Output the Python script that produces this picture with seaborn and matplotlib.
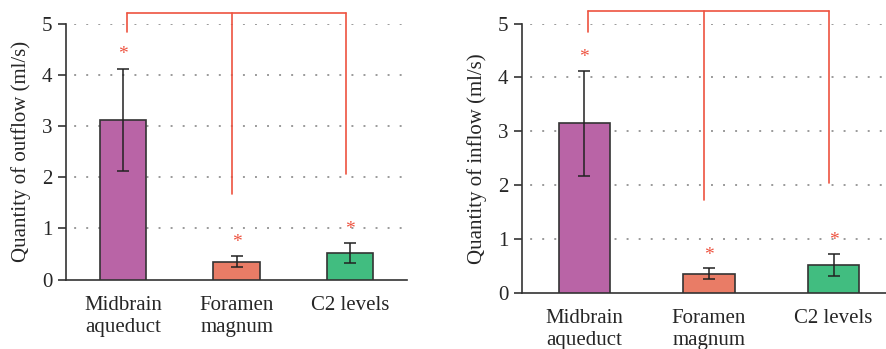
import matplotlib
matplotlib.use("Agg")
import matplotlib.pyplot as plt
import seaborn as sns
import numpy as np
import pandas as pd

categories = ["Midbrain\naqueduct", "Foramen\nmagnum", "C2 levels"]
outflow_mean = [3.12, 0.35, 0.52]
outflow_sd = [1.00, 0.11, 0.19]
outflow_star = [4.47, 0.81, 1.06]
outflow_bracket_top = 5.21
outflow_bracket_legs = [4.83, 1.67, 2.06]

inflow_mean = [3.15, 0.35, 0.515]
inflow_sd = [0.98, 0.10, 0.20]
inflow_star = [4.45, 0.77, 1.05]
inflow_bracket_top = 5.24
inflow_bracket_legs = [4.84, 1.72, 2.03]

yticks = [0, 1, 2, 3, 4, 5]
colors = ["#B964A6", "#E97C66", "#41BD80"]
red = "#EE5340"

sns.set_theme(style="white")
plt.rcParams["font.family"] = ["Liberation Serif", "DejaVu Serif"]
plt.rcParams["font.size"] = 15

fig = plt.figure(figsize=(8.86, 3.49), dpi=100)
ax1 = fig.add_axes([0.075, 0.1986, 0.3843, 0.7335])
ax2 = fig.add_axes([0.5892, 0.1613, 0.4221, 0.7708])


def panel(ax, mean, sd, star, btop, blegs, ylabel):
    df = pd.DataFrame({"cat": categories, "val": mean})
    sns.barplot(data=df, x="cat", y="val", hue="cat", palette=colors,
                width=0.41, edgecolor="#333333", linewidth=1.2,
                errorbar=None, legend=False, ax=ax, zorder=3, saturation=1)
    xs = np.arange(len(categories))
    ax.errorbar(xs, mean, yerr=sd, fmt="none", ecolor="#222222",
                elinewidth=1.1, capsize=4, capthick=1.1, zorder=4)
    for x, s in zip(xs, star):
        ax.annotate("*", (x, s), xytext=(0, -3), textcoords="offset points",
                    color=red, ha="center", va="center", fontsize=14,
                    zorder=5)
    # bracket
    leg_x = [xs[0] + 0.03, xs[1] - 0.04, xs[2] - 0.04]
    ax.plot([leg_x[0], leg_x[2]], [btop, btop], color=red, lw=1.2,
            clip_on=False, zorder=5)
    for lx, ly in zip(leg_x, blegs):
        ax.plot([lx, lx], [btop, ly], color=red, lw=1.2, clip_on=False,
                zorder=5)
    ax.set_xlim(-0.5, 2.5)
    ax.set_ylim(0, 5)
    ax.set_yticks(yticks)
    for y in yticks[1:]:
        ax.axhline(y, color="#9a9a9a", lw=1.4, ls=(2.0, (1, 5.2)), zorder=1)
    ax.set_xlabel("")
    ax.set_ylabel(ylabel, fontsize=15, labelpad=8)
    for s in ["top", "right"]:
        ax.spines[s].set_visible(False)
    for s in ["left", "bottom"]:
        ax.spines[s].set_color("#333333")
        ax.spines[s].set_linewidth(1.2)
    ax.tick_params(axis="y", left=True, length=6, width=1.2,
                   color="#333333", labelsize=15, pad=4)
    ax.tick_params(axis="x", bottom=False, labelsize=15, pad=6)
    for lbl in ax.get_xticklabels():
        lbl.set_linespacing(1.2)
    ax.set_facecolor("white")


panel(ax1, outflow_mean, outflow_sd, outflow_star, outflow_bracket_top,
      outflow_bracket_legs, "Quantity of outflow (ml/s)")
panel(ax2, inflow_mean, inflow_sd, inflow_star, inflow_bracket_top,
      inflow_bracket_legs, "Quantity of inflow (ml/s)")

fig.savefig("out.png", dpi=100, facecolor="white")
